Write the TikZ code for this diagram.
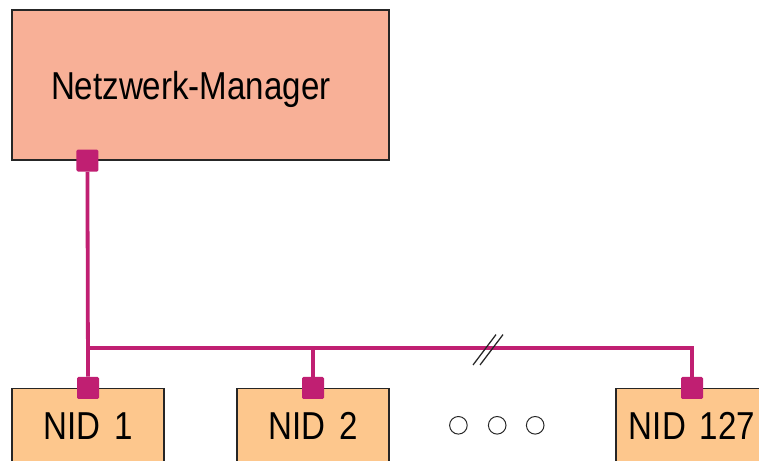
\documentclass[tikz,border=0pt]{standalone}
\usepackage{fontspec}
\setmainfont{Liberation Sans}
\newfontfamily\labelfont[FakeStretch=0.85]{Liberation Sans}
\usetikzlibrary{positioning}

\definecolor{mgrfill}{HTML}{F8B097}
\definecolor{nidfill}{HTML}{FDC78D}
\definecolor{buscol}{HTML}{C01F72}

\tikzset{
  box/.style = {draw=black!85, line width=0.8pt, inner sep=0pt, text depth=0pt,
                font=\labelfont\fontsize{27.7}{32}\selectfont},
  nid/.style = {box, fill=nidfill, minimum width=3.8cm, minimum height=1.875cm, anchor=north},
  port/.style = {fill=buscol, minimum size=0.55cm, inner sep=0pt, rounded corners=1pt},
  buswire/.style = {draw=buscol, line width=2.7pt},
  dot/.style = {circle, draw=black!85, line width=0.7pt, minimum size=0.44cm, inner sep=0pt},
}

\begin{document}
\begin{tikzpicture}
    \useasboundingbox (0,0) rectangle (18.975,11.525);
    \clip (0,0) rectangle (18.975,11.525);

    % manager and the nodes on the bus
    \node[box, fill=mgrfill, minimum width=9.425cm, minimum height=3.75cm,
          inner xsep=0.975cm, text width=7.475cm, align=left] (mgr) at (5.0125,9.4) {Netzwerk-Manager};
    \node[nid] (n1) at (2.2,1.825) {NID\hspace{0.12em} 1};
    \node[nid] (n2) at (7.825,1.825) {NID\hspace{0.12em} 2};
    \node[nid] (n127) at (17.3,1.825) {NID\hspace{0.12em} 127};

    \node[port] (pm) at ([xshift=1.9cm]mgr.south west) {};
    \node[port] (p1) at (n1.north) {};
    \node[port] (p2) at (n2.north) {};
    \node[port] (p127) at (n127.north) {};

    \foreach \x [count=\i] in {11.46,12.43,13.38}
        \node[dot] (d\i) at (\x,0.8925) {};

    % bus
    \coordinate (tap) at (2.2,2.825);
    \draw[buswire] (pm.south) -- (p1.north);
    \draw[buswire] (tap) -| (p127.north);
    \draw[buswire] (p2.north) -- (p2.north |- tap);

    % interruption mark
    \coordinate (brk) at (12.2,2.8);
    \draw[black!85, line width=0.9pt] ([shift={(-0.375,-0.4)}]brk) -- ++(0.575,0.76);
    \draw[black!85, line width=0.9pt] ([shift={(-0.2,-0.4)}]brk) -- ++(0.575,0.76);
\end{tikzpicture}
\end{document}
